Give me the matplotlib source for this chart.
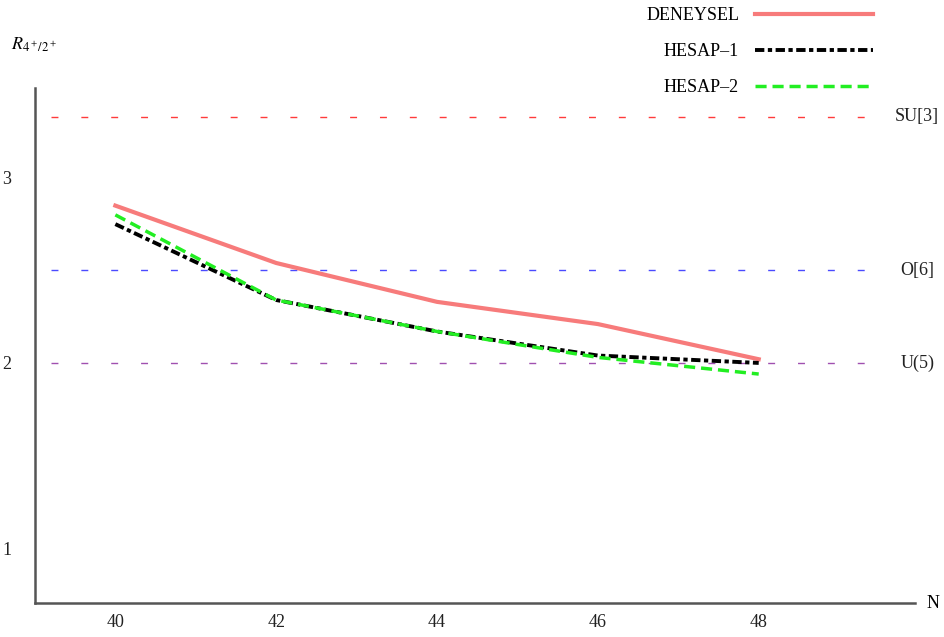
import numpy as np
import matplotlib
matplotlib.use("Agg")
import matplotlib.pyplot as plt

plt.rcParams['font.family'] = ['Liberation Serif', 'DejaVu Serif']
plt.rcParams['mathtext.fontset'] = 'stix'

# data
N = [40, 42, 44, 46, 48]
deneysel = [2.85, 2.54, 2.33, 2.21, 2.02]
hesap1 = [2.75, 2.34, 2.17, 2.04, 2.00]
hesap2 = [2.80, 2.34, 2.17, 2.03, 1.94]

limit_names = ["SU[3]", "O[6]", "U(5)"]
limit_values = [3.33, 2.5, 2.0]
limit_colors = ["#ff3b3b", "#4a4aff", "#a050b0"]

fig = plt.figure(figsize=(9.44, 6.37), dpi=100)
ax = fig.add_axes([0.037, 0.0534, 0.932, 0.8086])

for name, val, col in zip(limit_names, limit_values, limit_colors):
    ax.plot([39.2, 49.5], [val, val], color=col, lw=1.0, dashes=(5, 16.5))
    ax.text(49.97, val, name, ha='center', va='center', fontsize=13,
            color='#222222', clip_on=False)

l1, = ax.plot(N, deneysel, color='#f77b7b', lw=3.0, label='DENEYSEL')
l2, = ax.plot(N, hesap1, color='black', lw=2.8, dashes=(2.4, 0.9, 1.1, 0.9),
              label='HESAP\u20131')
l3, = ax.plot(N, hesap2, color='#22ee22', lw=2.5, dashes=(3.2, 1.7),
              label='HESAP\u20132')

ax.set_xlim(39.0, 49.94)
ax.set_ylim(0.703, 3.486)
ax.set_xticks(N)
ax.set_yticks([1, 2, 3])
ax.tick_params(axis='both', length=0, labelsize=13, colors='#222222')
ax.tick_params(axis='y', pad=17)
ax.tick_params(axis='x', pad=8)
for s in ['top', 'right']:
    ax.spines[s].set_visible(False)
for s in ['left', 'bottom']:
    ax.spines[s].set_color('#555555')
    ax.spines[s].set_linewidth(1.8)

fig.text(0.988, 1 - 603 / 637, 'N', ha='center', va='center', fontsize=13)
fig.text(0.012, 1 - 45 / 637, r'$R_{4^+/2^+}$', ha='left', va='center',
         fontsize=13)

fig.legend(handles=[l1, l2, l3], loc='upper right',
           bbox_to_anchor=(889 / 944, 1.014), frameon=False,
           markerfirst=False, handlelength=6.5, labelspacing=1.05,
           handletextpad=0.9, fontsize=13)

fig.savefig('out.png', dpi=100)
